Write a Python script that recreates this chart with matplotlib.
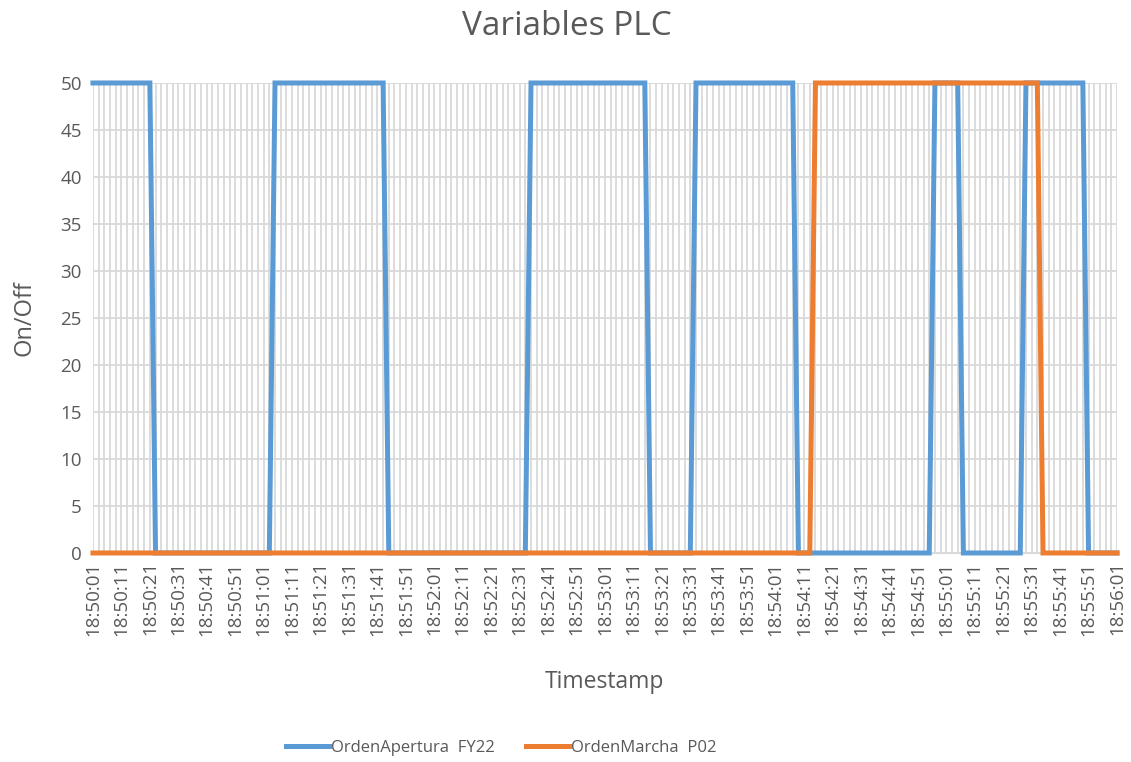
import matplotlib.pyplot as plt
import pandas as pd

# Marcas de tiempo (muestreo cada 2 s)
timestamps = pd.date_range("2020-01-01 18:50:01", "2020-01-01 18:56:01", freq="2s").strftime("%H:%M:%S").tolist()

# Estado de las variables del PLC (0 = off, 50 = on)
orden_apertura_fy22 = ([50] * 11 + [0] * 21 + [50] * 20 + [0] * 25 + [50] * 21 + [0] * 8
                       + [50] * 18 + [0] * 24 + [50] * 5 + [0] * 11 + [50] * 11 + [0] * 6)
orden_marcha_p02 = [0] * 127 + [50] * 40 + [0] * 14

y_ticks = list(range(0, 55, 5))

plt.rcParams["font.family"] = ["Open Sans", "DejaVu Sans"]
text_color = "#595959"

fig = plt.figure(figsize=(11.31, 7.62), dpi=100)
ax = fig.add_axes([0.0822, 0.2743, 0.9054, 0.6168])

x = range(len(timestamps))
ax.plot(x, orden_apertura_fy22, color="#5b9bd5", lw=3.6, label="OrdenApertura  FY22",
        clip_on=False, solid_joinstyle="miter", zorder=3)
ax.plot(x, orden_marcha_p02, color="#ed7d31", lw=3.6, label="OrdenMarcha  P02",
        clip_on=False, solid_joinstyle="miter", zorder=4)

ax.set_xlim(0, len(timestamps) - 1)
ax.set_ylim(0, 50)
ax.set_yticks(y_ticks)
ax.set_xticks(list(x)[::5])
ax.set_xticklabels(timestamps[::5], rotation=90)
ax.set_xticks(list(x), minor=True)
ax.tick_params(which="both", length=0, colors=text_color, labelsize=13.5)
ax.tick_params(axis="x", pad=6)
ax.tick_params(axis="y", pad=8)

ax.grid(True, which="both", axis="x", color="#d9d9d9", lw=1.3)
ax.grid(True, which="major", axis="y", color="#d9d9d9", lw=1.3)
ax.set_axisbelow(True)
for side in ["top", "right", "left"]:
    ax.spines[side].set_visible(False)
ax.spines["bottom"].set_color("#d9d9d9")

fig.text(0.501, 0.965, "Variables PLC", ha="center", va="center", fontsize=24, color=text_color)
fig.text(0.022, 0.583, "On/Off", rotation=90, ha="center", va="center", fontsize=17, color=text_color)
fig.text(0.534, 0.105, "Timestamp", ha="center", va="center", fontsize=16.5, color=text_color)

fig.legend(loc="center", bbox_to_anchor=(0.443, 0.018), ncol=2, frameon=False,
           fontsize=12, handlelength=2.6, columnspacing=1.9, handletextpad=0.1,
           labelcolor=text_color)

fig.savefig("out.png", dpi=100)
